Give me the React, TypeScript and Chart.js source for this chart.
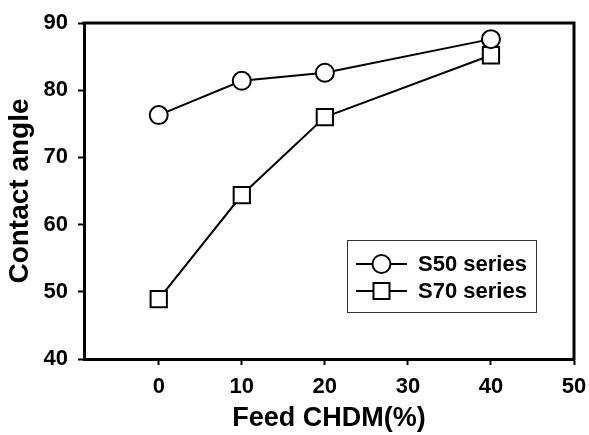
import React, { useEffect, useRef } from "react";
import { Chart, registerables } from "chart.js";

Chart.register(...registerables);

const feedCHDM = [0, 10, 20, 40];
const s50Values = [76.3, 81.4, 82.6, 87.6];
const s70Values = [48.9, 64.4, 76.0, 85.2];
const xTickValues = [0, 10, 20, 30, 40, 50];
const seriesLabels = ["S50 series", "S70 series"];

const FONT = '"Liberation Sans", Arial, Helvetica, sans-serif';

const framePlugin = {
  id: "frame",
  afterDraw(chart: any) {
    const { ctx, chartArea } = chart;
    ctx.save();
    ctx.strokeStyle = "#000";
    ctx.lineWidth = 3;
    ctx.lineCap = "square";
    ctx.beginPath();
    ctx.moveTo(chartArea.left, chartArea.top);
    ctx.lineTo(chartArea.right, chartArea.top);
    ctx.lineTo(chartArea.right, chartArea.bottom);
    ctx.stroke();
    ctx.restore();
  },
};

const boxLegendPlugin = {
  id: "boxLegend",
  afterDraw(chart: any) {
    const { ctx, chartArea } = chart;
    const right = chartArea.right - 38;
    const bottom = chartArea.bottom - 47;
    const w = 189;
    const h = 72;
    const left = right - w;
    const top = bottom - h;
    ctx.save();
    ctx.strokeStyle = "#333";
    ctx.lineWidth = 1;
    ctx.strokeRect(left + 0.5, top + 0.5, w, h);
    chart.data.datasets.forEach((ds: any, i: number) => {
      const y = top + 24 + i * 27;
      const x0 = left + 9;
      const x1 = left + 60;
      const cx = (x0 + x1) / 2;
      ctx.strokeStyle = "#000";
      ctx.lineWidth = 2;
      ctx.beginPath();
      ctx.moveTo(x0, y);
      ctx.lineTo(x1, y);
      ctx.stroke();
      ctx.fillStyle = "#fff";
      ctx.beginPath();
      if (ds.pointStyle === "rect") {
        ctx.rect(cx - 8, y - 8, 16, 16);
      } else {
        ctx.arc(cx, y, 9, 0, Math.PI * 2);
      }
      ctx.fill();
      ctx.stroke();
      ctx.fillStyle = "#000";
      ctx.font = `bold 22px ${FONT}`;
      ctx.textBaseline = "middle";
      ctx.textAlign = "left";
      ctx.fillText(ds.label, left + 71, y + 1);
    });
    ctx.restore();
  },
};

export default function App() {
  const ref = useRef<HTMLCanvasElement | null>(null);

  useEffect(() => {
    if (!ref.current) return;
    const chart = new Chart(ref.current, {
      type: "line",
      data: {
        datasets: [
          {
            label: seriesLabels[0],
            data: feedCHDM.map((x, i) => ({ x, y: s50Values[i] })),
            borderColor: "#000",
            borderWidth: 2,
            backgroundColor: "#fff",
            pointStyle: "circle",
            pointRadius: 9,
            pointBorderWidth: 2,
            pointBorderColor: "#000",
            pointBackgroundColor: "#fff",
            tension: 0,
          },
          {
            label: seriesLabels[1],
            data: feedCHDM.map((x, i) => ({ x, y: s70Values[i] })),
            borderColor: "#000",
            borderWidth: 2,
            backgroundColor: "#fff",
            pointStyle: "rect",
            pointRadius: 11.5,
            pointBorderWidth: 2,
            pointBorderColor: "#000",
            pointBackgroundColor: "#fff",
            tension: 0,
          },
        ],
      },
      options: {
        responsive: false,
        animation: false,
        layout: { padding: { left: 0, top: 23, right: 15, bottom: 0 } },
        plugins: {
          legend: { display: false },
          tooltip: { enabled: false },
        },
        scales: {
          x: {
            type: "linear",
            min: -9,
            max: 50,
            afterBuildTicks: (scale: any) => {
              scale.ticks = xTickValues.map((v) => ({ value: v }));
            },
            afterFit: (scale: any) => {
              scale.height = 76;
              scale.paddingRight = 0;
              scale.paddingLeft = 0;
            },
            grid: {
              drawOnChartArea: false,
              drawTicks: true,
              tickLength: 6,
              tickWidth: 2,
              tickColor: "#000",
            },
            border: { display: true, color: "#000", width: 3 },
            ticks: {
              color: "#000",
              padding: 9,
              maxRotation: 0,
              font: { family: FONT, size: 22, weight: "bold" },
            },
            title: {
              display: true,
              text: "Feed CHDM(%)",
              color: "#000",
              padding: { top: 0, bottom: 0 },
              font: { family: FONT, size: 27, weight: "bold", lineHeight: 1.2 },
            },
          },
          y: {
            type: "linear",
            min: 40,
            max: 90,
            ticks: {
              stepSize: 10,
              color: "#000",
              padding: 10,
              font: { family: FONT, size: 22, weight: "bold" },
            },
            afterFit: (scale: any) => {
              scale.width = 84;
              scale.paddingTop = 0;
              scale.paddingBottom = 0;
            },
            grid: {
              drawOnChartArea: false,
              drawTicks: true,
              tickLength: 6,
              tickWidth: 2,
              tickColor: "#000",
            },
            border: { display: true, color: "#000", width: 3 },
            title: {
              display: true,
              text: "Contact angle",
              color: "#000",
              padding: { top: 3, bottom: 0 },
              font: { family: FONT, size: 28, weight: "bold", lineHeight: 1.2 },
            },
          },
        },
      },
      plugins: [framePlugin, boxLegendPlugin],
    });
    return () => chart.destroy();
  }, []);

  return (
    <div style={{ position: "absolute", left: 0, top: 0, width: 589, height: 435, background: "#fff" }}>
      <canvas ref={ref} width={589} height={435} />
    </div>
  );
}
